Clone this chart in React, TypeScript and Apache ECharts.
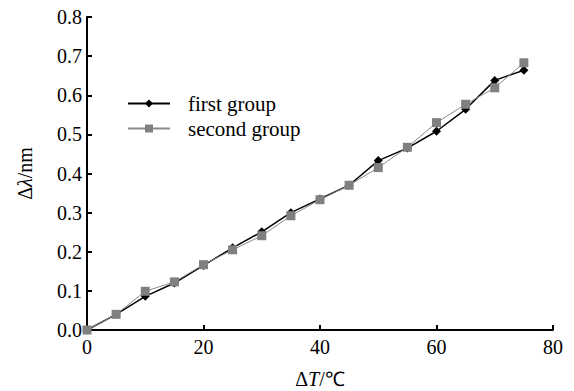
import React, { useEffect, useRef } from "react";
import * as echarts from "echarts";

const temps = [0, 5, 10, 15, 20, 25, 30, 35, 40, 45, 50, 55, 60, 65, 70, 75];
const firstGroup = [0, 0.04, 0.086, 0.12, 0.165, 0.21, 0.251, 0.3, 0.335, 0.37, 0.433, 0.465, 0.508, 0.564, 0.638, 0.664];
const secondGroup = [0, 0.04, 0.099, 0.123, 0.167, 0.205, 0.241, 0.292, 0.333, 0.37, 0.415, 0.467, 0.53, 0.577, 0.619, 0.683];
const seriesNames = ["first group", "second group"];

const serif = "'Liberation Serif', 'Times New Roman', serif";

export default function App() {
  const ref = useRef<HTMLDivElement>(null);
  useEffect(() => {
    if (!ref.current) return;
    const chart = echarts.init(ref.current, null, { renderer: "svg" });
    const pair = (ys: number[]) => temps.map((t, i) => [t, ys[i]]);
    chart.setOption({
      animation: false,
      backgroundColor: "#fff",
      textStyle: { fontFamily: serif, color: "#000" },
      grid: { left: 87, right: 21, top: 17, bottom: 61, containLabel: false, outerBoundsMode: "none" },
      legend: {
        orient: "vertical",
        left: 122,
        top: 88,
        itemWidth: 42,
        itemHeight: 10,
        itemGap: 4,
        data: seriesNames,
        textStyle: { fontFamily: serif, fontSize: 21, color: "#000", padding: [0, 0, 0, 13] },
      },
      xAxis: {
        type: "value",
        min: 0,
        max: 80,
        interval: 20,
        name: "{a|Δ}{i|T}{a|/℃}",
        nameLocation: "middle",
        nameGap: 39,
        nameTextStyle: {
          rich: {
            a: { fontFamily: serif, fontSize: 20, color: "#000" },
            i: { fontFamily: serif, fontSize: 20, fontStyle: "italic", color: "#000" },
          },
        },
        axisLine: { lineStyle: { color: "#000", width: 2 } },
        axisTick: { inside: true, length: 5, lineStyle: { color: "#000", width: 2 } },
        axisLabel: { fontFamily: serif, fontSize: 20, color: "#000", margin: 7 },
        splitLine: { show: false },
      },
      yAxis: {
        type: "value",
        min: 0,
        max: 0.8,
        interval: 0.1,
        name: "{a|Δ}{i|λ}{a|/nm}",
        nameLocation: "middle",
        nameGap: 52,
        nameRotate: 90,
        nameTextStyle: {
          rich: {
            a: { fontFamily: serif, fontSize: 20, color: "#000" },
            i: { fontFamily: serif, fontSize: 20, fontStyle: "italic", color: "#000" },
          },
        },
        axisLine: { lineStyle: { color: "#000", width: 2 } },
        axisTick: { inside: true, length: 5, lineStyle: { color: "#000", width: 2 } },
        axisLabel: {
          fontFamily: serif,
          fontSize: 20,
          color: "#000",
          margin: 5,
          formatter: (v: number) => v.toFixed(1),
        },
        splitLine: { show: false },
      },
      series: [
        {
          name: seriesNames[0],
          type: "line",
          data: pair(firstGroup),
          symbol: "diamond",
          symbolSize: 9,
          itemStyle: { color: "#000" },
          lineStyle: { color: "#000", width: 1.5 },
          z: 3,
        },
        {
          name: seriesNames[1],
          type: "line",
          data: pair(secondGroup),
          symbol: "rect",
          symbolSize: 9,
          itemStyle: { color: "#808080" },
          lineStyle: { color: "#8a8a8a", width: 1 },
          z: 4,
        },
      ],
    });
    return () => chart.dispose();
  }, []);
  return <div ref={ref} style={{ width: 574, height: 391, position: "absolute", left: 0, top: 0 }} />;
}
